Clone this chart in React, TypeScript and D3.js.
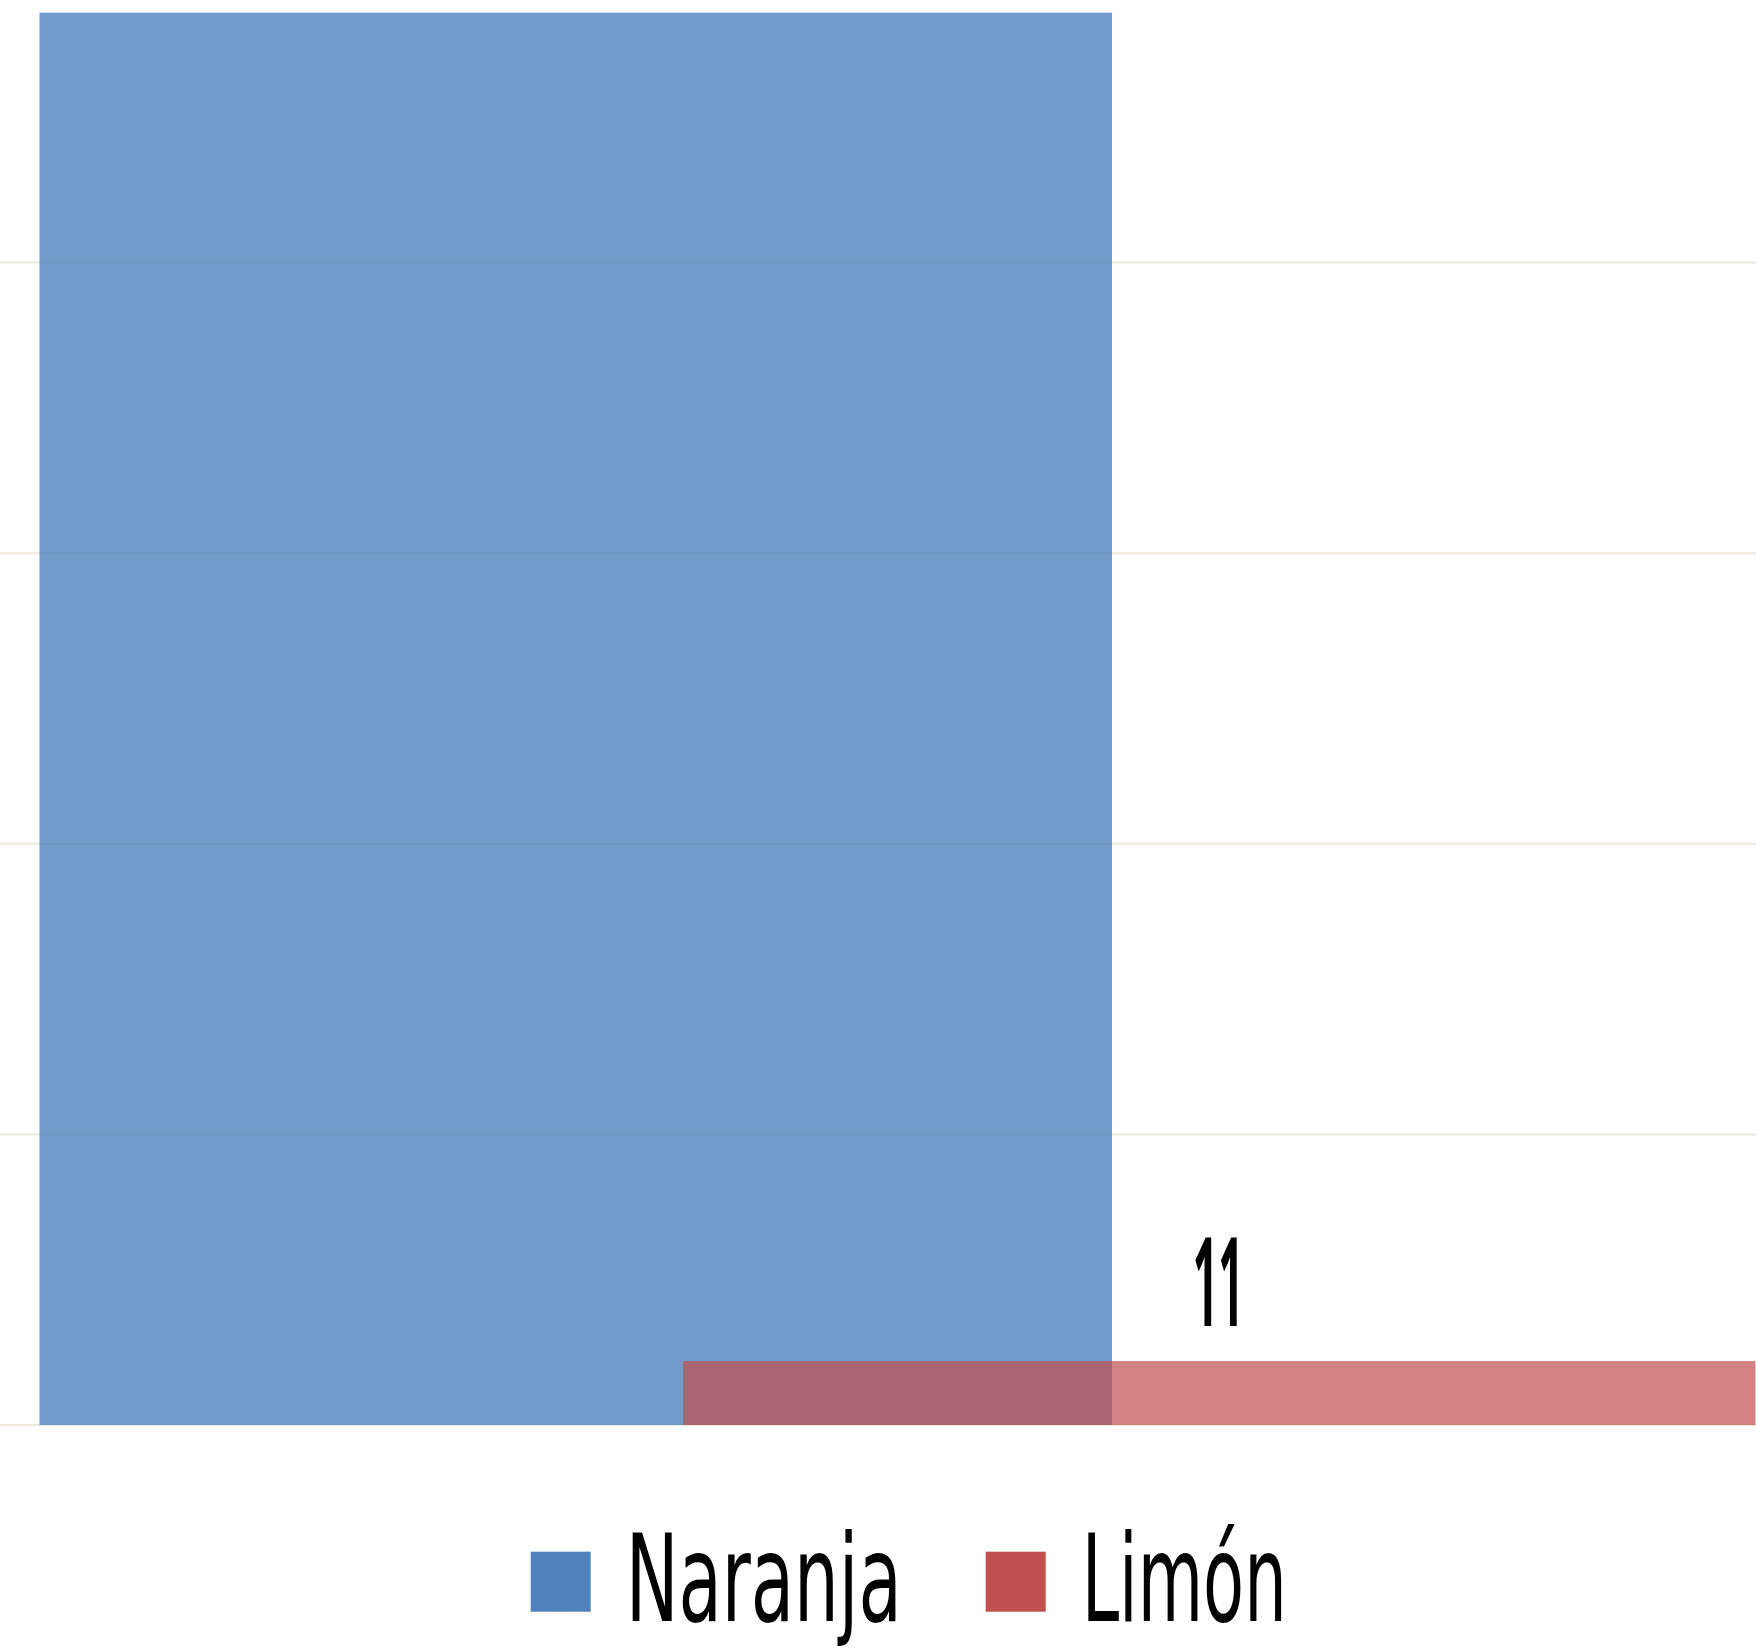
import React from "react";
import * as d3 from "d3";

const categories = ["Frutas"];
const seriesNames = ["Naranja", "Limón"];
const naranjaValues = [243];
const limonValues = [11];
const gridTicks = [0, 50, 100, 150, 200, 250];
const seriesColors = ["#4F81BD", "#C0504D"];
const seriesOpacity = [0.8, 0.7];

const W = 1756;
const H = 1652;
const FONT = "'Liberation Sans Narrow', 'DejaVu Sans Condensed', 'Liberation Sans', sans-serif";
const LABEL_FONT = "'Open Sans', Roboto, sans-serif";

export default function App() {
  const seriesValues = [naranjaValues, limonValues];
  const y = d3.scaleLinear().domain([0, 250]).range([1425, 1425 - 250 * 5.812]);
  const group = d3.scaleBand().domain(categories).range([39.5, 1755.5]).padding(0);
  const overlap = 0.4;
  const n = seriesNames.length;
  const barW = group.bandwidth() / (n - (n - 1) * overlap);
  const step = barW * (1 - overlap);

  const legendItems = [
    { swatchX: 530.7, textX: 625.7, textLen: 276 },
    { swatchX: 985.7, textX: 1081.7, textLen: 205 },
  ];

  return (
    <svg
      width={W}
      height={H}
      style={{ position: "absolute", left: 0, top: 0, display: "block", background: "#fff" }}
    >
      <rect x={0} y={0} width={W} height={H} fill="#ffffff" />
      {gridTicks.map((t) => (
        <line
          key={t}
          x1={0}
          x2={W}
          y1={y(t)}
          y2={y(t)}
          stroke="#EEEADF"
          strokeWidth={2}
        />
      ))}
      {categories.map((c, ci) =>
        seriesNames.map((s, si) => {
          const v = seriesValues[si][ci];
          const x = (group(c) as number) + si * step;
          return (
            <rect
              key={c + s}
              x={x}
              y={y(v)}
              width={barW}
              height={y(0) - y(v)}
              fill={seriesColors[si]}
              fillOpacity={seriesOpacity[si]}
            />
          );
        })
      )}
      {categories.map((c, ci) => {
        const si = 1;
        const v = seriesValues[si][ci];
        const x = (group(c) as number) + si * step + barW / 2;
        return (
          <text
            key={"lbl" + c}
            transform={`translate(${x - 1},${y(v) - 35}) scale(0.36,1)`}
            x={0}
            y={0}
            textAnchor="middle"
            fontFamily={LABEL_FONT}
            fontWeight="bold"
            fontSize={124}
            fill="#000"
          >
            {v}
          </text>
        );
      })}
      {seriesNames.map((s, si) => (
        <g key={"lg" + s}>
          <rect
            x={legendItems[si].swatchX}
            y={1551.7}
            width={60}
            height={60}
            fill={seriesColors[si]}
          />
          <text
            x={legendItems[si].textX}
            y={1621}
            fontFamily={FONT}
            fontSize={122}
            textLength={legendItems[si].textLen}
            lengthAdjust="spacingAndGlyphs"
            fill="#000"
          >
            {s}
          </text>
        </g>
      ))}
    </svg>
  );
}
